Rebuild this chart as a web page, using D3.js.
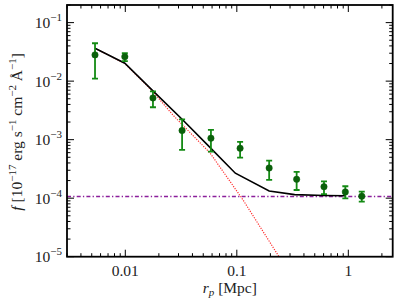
<!DOCTYPE html>
<html>
<head>
<meta charset="utf-8">
<script src="https://cdn.jsdelivr.net/npm/d3@7"></script>
<style>
  body { margin: 0; background: #fff; }
  svg { display: block; }
  text { font-family: "Liberation Serif", "DejaVu Serif", serif; fill: #222; }
</style>
</head>
<body>
<div id="chart-area"></div>
<script>
// measured points (r_p in Mpc, f in 1e-17 erg/s/cm2/A)
const rp = [0.00535, 0.0099, 0.0177, 0.0323, 0.0586, 0.107, 0.195, 0.344, 0.605, 0.94, 1.32];
const fObs = [0.0281, 0.0262, 0.00516, 0.00143, 0.00106, 0.000713, 0.000328, 0.000210, 0.000157, 0.000128, 0.000108];
const fHi = [0.0444, 0.0300, 0.0067, 0.00223, 0.00147, 0.000914, 0.000438, 0.000281, 0.000194, 0.000160, 0.000129];
const fLo = [0.0110, 0.0219, 0.00358, 0.000667, 0.000624, 0.000492, 0.000205, 0.000138, 0.000117, 0.0000995, 0.0000871];

// total model (black)
const modelR = [0.00535, 0.0099, 0.0177, 0.0323, 0.0586, 0.097, 0.195, 0.33, 0.605, 0.94];
const modelF = [0.0365, 0.0202, 0.0068, 0.00223, 0.00071, 0.000267, 0.000133, 0.000115, 0.000111, 0.000110];

// one-halo term (red dotted)
const haloR = [0.00535, 0.0099, 0.0177, 0.0268, 0.0575, 0.1138, 0.239, 0.30];
const haloF = [0.0364, 0.0200, 0.0066, 0.00262, 0.000593, 0.0000931, 0.00001, 0.0000035];

// background level (purple dash-dot)
const bgLevel = 0.000107;

const yTicks = [-5, -4, -3, -2, -1];
const xTicks = [0.01, 0.1, 1];
const xTickLabels = ["0.01", "0.1", "1"];

const width = 399, height = 307;
const margin = {left: 67, right: 6.3, top: 5, bottom: 50.3};

const svg = d3.select("#chart-area")
    .append("svg")
    .attr("width", width)
    .attr("height", height);

const x = d3.scaleLog()
    .domain([0.003, 2.5])
    .range([margin.left, width - margin.right]);

const y = d3.scaleLog()
    .domain([1e-5, 0.2])
    .range([height - margin.bottom, margin.top]);

svg.append("clipPath").attr("id", "clip")
    .append("rect")
    .attr("x", margin.left).attr("y", margin.top)
    .attr("width", width - margin.left - margin.right)
    .attr("height", height - margin.top - margin.bottom);

const plot = svg.append("g").attr("clip-path", "url(#clip)");

// background
plot.append("line")
    .attr("x1", x.range()[0]).attr("x2", x.range()[1])
    .attr("y1", y(bgLevel)).attr("y2", y(bgLevel))
    .attr("stroke", "#8b1f9b")
    .attr("stroke-width", 1.5)
    .attr("stroke-dasharray", "4,2.2,1.3,2.2");

const line = d3.line().x(d => x(d[0])).y(d => y(d[1]));

plot.append("path")
    .datum(d3.zip(haloR, haloF))
    .attr("d", line)
    .attr("fill", "none")
    .attr("stroke", "#ff3030")
    .attr("stroke-width", 1.2)
    .attr("stroke-dasharray", "1.2,1.3");

plot.append("path")
    .datum(d3.zip(modelR, modelF))
    .attr("d", line)
    .attr("fill", "none")
    .attr("stroke", "#000")
    .attr("stroke-width", 1.6);

// error bars
const pts = rp.map((r, i) => ({r, f: fObs[i], hi: fHi[i], lo: fLo[i]}));
const eb = plot.append("g")
    .attr("stroke", "#138a13")
    .attr("stroke-width", 1.8)
    .selectAll("g")
    .data(pts)
    .join("g");
eb.append("line")
    .attr("x1", d => x(d.r)).attr("x2", d => x(d.r))
    .attr("y1", d => y(d.hi)).attr("y2", d => y(d.lo));
eb.append("line")
    .attr("x1", d => x(d.r) - 3).attr("x2", d => x(d.r) + 3)
    .attr("y1", d => y(d.hi)).attr("y2", d => y(d.hi));
eb.append("line")
    .attr("x1", d => x(d.r) - 3).attr("x2", d => x(d.r) + 3)
    .attr("y1", d => y(d.lo)).attr("y2", d => y(d.lo));

plot.append("g")
    .selectAll("circle")
    .data(pts)
    .join("circle")
    .attr("cx", d => x(d.r))
    .attr("cy", d => y(d.f))
    .attr("r", 3.2)
    .attr("fill", "#0a600a")
    .attr("stroke", "#0a600a")
    .attr("stroke-width", 0.5);

// ticks on all four sides, pointing in
const x0 = x.range()[0], x1 = x.range()[1];
const y0 = y.range()[0], y1 = y.range()[1];
const ticks = svg.append("g").attr("stroke", "#000").attr("stroke-width", 1);

const xMinor = x.ticks().filter(t => !xTicks.some(m => Math.abs(m - t) / m < 1e-6));
const yMinor = y.ticks().filter(t => Math.abs(Math.log10(t) - Math.round(Math.log10(t))) > 1e-6);

function hTicks(vals, len) {
    vals.forEach(v => {
        ticks.append("line").attr("x1", x(v)).attr("x2", x(v)).attr("y1", y0).attr("y2", y0 - len);
        ticks.append("line").attr("x1", x(v)).attr("x2", x(v)).attr("y1", y1).attr("y2", y1 + len);
    });
}
function vTicks(vals, len) {
    vals.forEach(v => {
        ticks.append("line").attr("y1", y(v)).attr("y2", y(v)).attr("x1", x0).attr("x2", x0 + len);
        ticks.append("line").attr("y1", y(v)).attr("y2", y(v)).attr("x1", x1).attr("x2", x1 - len);
    });
}
hTicks(xTicks, 7);
hTicks(xMinor, 3.5);
vTicks(yTicks.map(e => Math.pow(10, e)), 7);
vTicks(yMinor, 3.5);

svg.append("rect")
    .attr("x", x0).attr("y", y1)
    .attr("width", x1 - x0).attr("height", y0 - y1)
    .attr("fill", "none")
    .attr("stroke", "#000")
    .attr("stroke-width", 1.8);

// tick labels
svg.append("g")
    .selectAll("text")
    .data(xTicks)
    .join("text")
    .attr("x", d => x(d))
    .attr("y", y0 + 19)
    .attr("text-anchor", "middle")
    .attr("font-size", 15.5)
    .text((d, i) => xTickLabels[i]);

const yl = svg.append("g")
    .selectAll("text")
    .data(yTicks)
    .join("text")
    .attr("x", x0 - 5)
    .attr("y", d => y(Math.pow(10, d)) + 5.5)
    .attr("text-anchor", "end")
    .attr("font-size", 15.5);
yl.append("tspan").text("10");
yl.append("tspan")
    .attr("font-size", 11)
    .attr("dy", -7)
    .text(d => "\u2212" + (-d));

// axis titles
const xt = svg.append("text")
    .attr("x", (x0 + x1) / 2)
    .attr("y", 293)
    .attr("text-anchor", "middle")
    .attr("font-size", 15.5);
xt.append("tspan").attr("font-style", "italic").text("r");
xt.append("tspan").attr("font-style", "italic").attr("font-size", 11).attr("dy", 3).text("p");
xt.append("tspan").attr("dy", -3).text(" [Mpc]");

const yt = svg.append("text")
    .attr("transform", `translate(22,${(y0 + y1) / 2 + 1}) rotate(-90)`)
    .attr("text-anchor", "middle")
    .attr("font-size", 15.5);
yt.append("tspan").attr("font-style", "italic").text("f");
yt.append("tspan").text(" [10");
yt.append("tspan").attr("font-size", 11).attr("dy", -6).text("\u221217");
yt.append("tspan").attr("dy", 6).text(" erg s");
yt.append("tspan").attr("font-size", 11).attr("dy", -6).text("\u22121");
yt.append("tspan").attr("dy", 6).text(" cm");
yt.append("tspan").attr("font-size", 11).attr("dy", -6).text("\u22122");
yt.append("tspan").attr("dy", 6).text(" \u00C5");
yt.append("tspan").attr("font-size", 11).attr("dy", -6).text("\u22121");
yt.append("tspan").attr("dy", 6).text("]");
</script>
</body>
</html>
